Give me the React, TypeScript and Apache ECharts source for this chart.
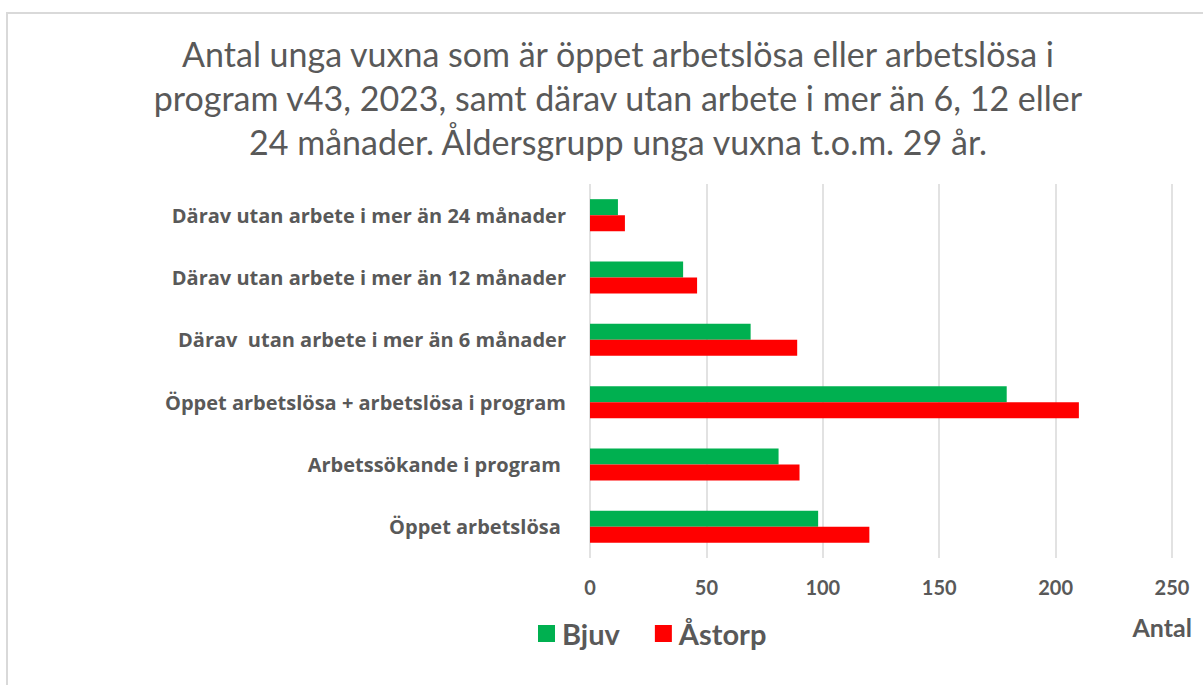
import React, { useEffect, useRef } from 'react';
import * as echarts from 'echarts';

const titleLines = [
  'Antal unga vuxna som är öppet arbetslösa eller arbetslösa i',
  'program v43, 2023, samt därav utan arbete i mer än 6, 12 eller',
  '24 månader. Åldersgrupp unga vuxna t.o.m. 29 år.',
];
const categories = [
  'Därav utan arbete i mer än 24 månader',
  'Därav utan arbete i mer än 12 månader',
  'Därav  utan arbete i mer än 6 månader',
  'Öppet arbetslösa + arbetslösa i program',
  'Arbetssökande i program ',
  'Öppet arbetslösa ',
];
const seriesNames = ['Bjuv', 'Åstorp'];
const bjuv = [12, 40, 69, 179, 81, 98];
const astorp = [15, 46, 89, 210, 90, 120];
const xMin = 0;
const xMax = 250;
const xStep = 50;
const axisName = 'Antal';

const FONT = 'Lato, "Open Sans", sans-serif';
const FONT2 = '"Open Sans", Lato, sans-serif';
const GRAY = '#595959';

export default function App() {
  const ref = useRef<HTMLDivElement>(null);
  useEffect(() => {
    document.body.style.margin = '0';
    if (!ref.current) return;
    const chart = echarts.init(ref.current, undefined, { renderer: 'svg' });
    chart.setOption({
      animation: false,
      backgroundColor: '#ffffff',
      textStyle: { fontFamily: FONT },
      title: {
        text: titleLines.join('\n'),
        left: 613,
        top: 26,
        textAlign: 'center',
        textStyle: {
          fontFamily: FONT,
          fontSize: 34,
          fontWeight: 'normal',
          color: GRAY,
          lineHeight: 44,
        },
      },
      graphic: [
        {
          type: 'rect',
          shape: { x: 7, y: 13, width: 1210, height: 700 },
          style: { fill: 'none', stroke: '#D9D9D9', lineWidth: 2 },
          silent: true,
        },
      ],
      legend: {
        data: seriesNames,
        left: 538,
        top: 619,
        padding: 0,
        itemWidth: 17,
        itemHeight: 17,
        itemGap: 35,
        icon: 'rect',
        textStyle: { fontFamily: FONT, fontSize: 29, fontWeight: 'bold', color: GRAY, padding: [0, 0, 0, 2] },
      },
      grid: { left: 590, right: 31, top: 184, bottom: 127, containLabel: false },
      xAxis: {
        type: 'value',
        min: xMin,
        max: xMax,
        interval: xStep,
        name: axisName,
        nameLocation: 'end',
        nameGap: 20,
        nameTextStyle: {
          fontFamily: FONT,
          fontSize: 25,
          fontWeight: 'bold',
          color: GRAY,
          align: 'right',
          verticalAlign: 'top',
          padding: [56, 0, 0, 0],
        },
        axisLine: { show: false },
        axisTick: { show: false },
        axisLabel: { fontFamily: FONT, fontSize: 20, fontWeight: 'bold', color: GRAY, margin: 19 },
        splitLine: { show: true, lineStyle: { color: '#D9D9D9', width: 1.5 } },
      },
      yAxis: {
        type: 'category',
        data: categories,
        inverse: true,
        axisLine: { show: false },
        axisTick: { show: false },
        axisLabel: { fontFamily: FONT2, fontSize: 20, fontWeight: 'bold', color: GRAY, margin: 24 },
      },
      series: [
        {
          name: seriesNames[0],
          type: 'bar',
          data: bjuv,
          barWidth: 16,
          barGap: '0%',
          itemStyle: { color: '#00B050' },
        },
        {
          name: seriesNames[1],
          type: 'bar',
          data: astorp,
          barWidth: 16,
          barGap: '0%',
          itemStyle: { color: '#FF0000' },
        },
      ],
    });
    return () => chart.dispose();
  }, []);
  return <div ref={ref} style={{ width: 1203, height: 685 }} />;
}
